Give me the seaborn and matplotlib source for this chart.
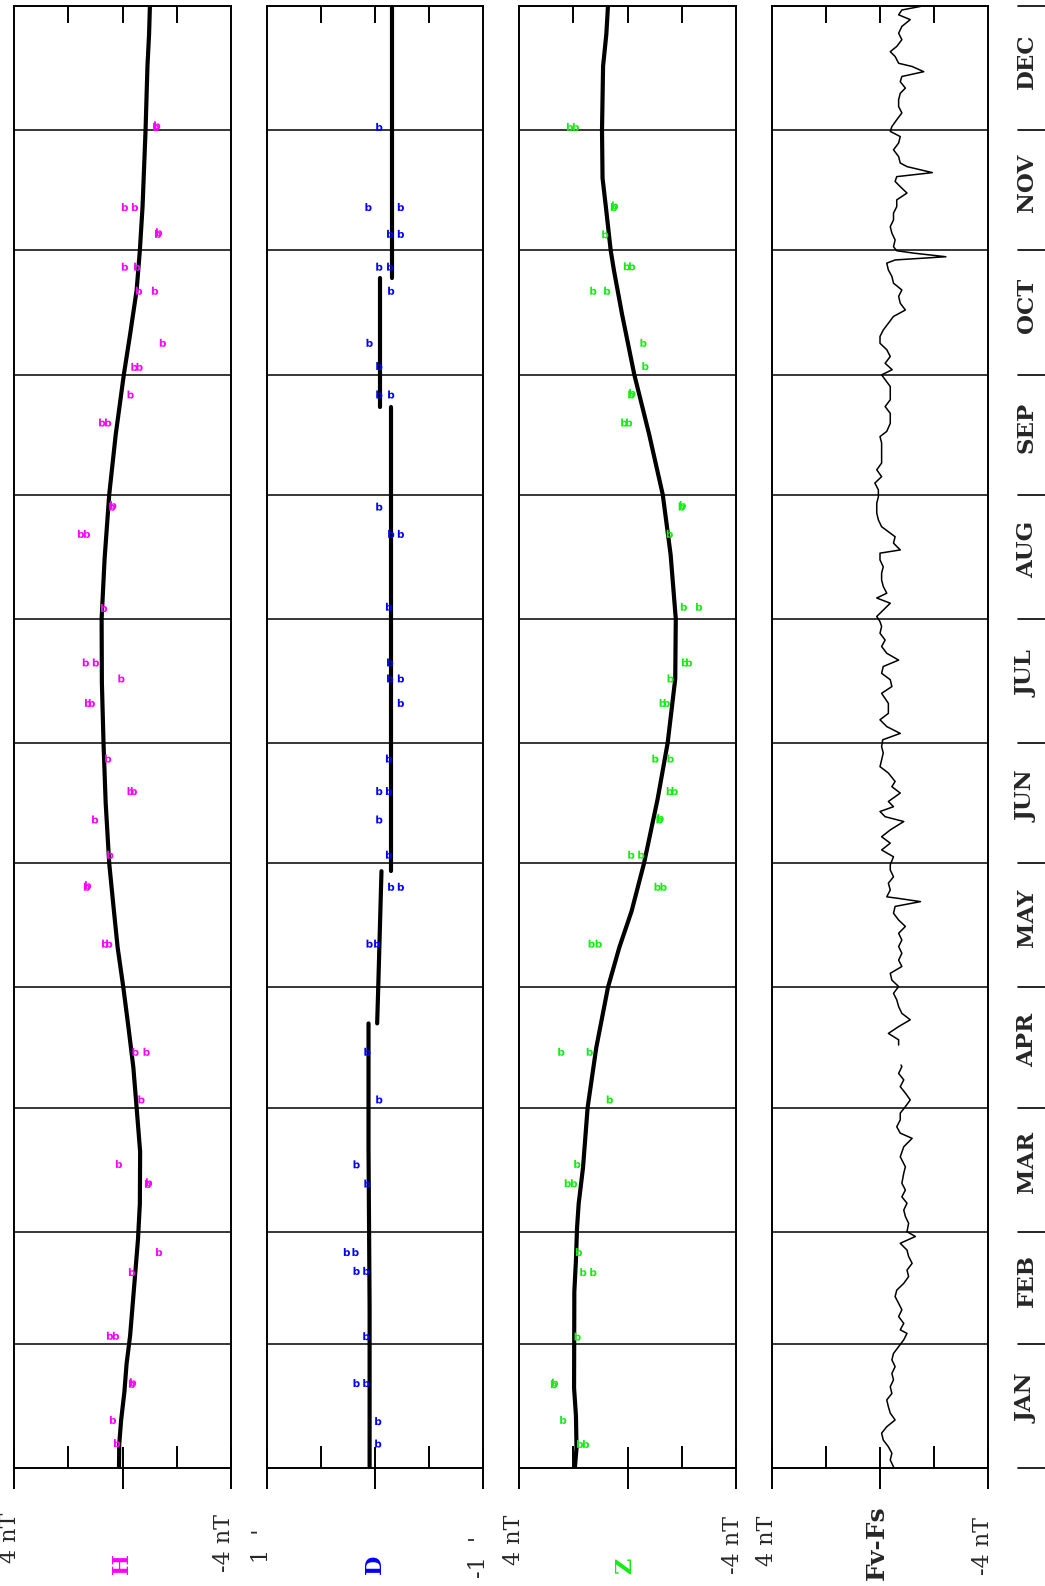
import numpy as np
import pandas as pd
import matplotlib
matplotlib.use("Agg")
import matplotlib.pyplot as plt
import seaborn as sns

months = ["JAN", "FEB", "MAR", "APR", "MAY", "JUN", "JUL", "AUG", "SEP", "OCT", "NOV", "DEC"]
month_len = [31, 28, 31, 30, 31, 30, 31, 31, 30, 31, 30, 31]

# smooth baselines (day of year, nT / arcmin)
h_day = [0, 6, 12, 19, 26, 33, 47, 57, 66, 79, 90, 100, 110, 120, 130, 140, 151, 166, 181, 196, 212,
         227, 243, 258, 273, 283, 294, 304, 315, 334, 350, 358, 365]
h_val = [0.13, 0.12, 0.05, -0.07, -0.15, -0.28, -0.45, -0.57, -0.64, -0.65, -0.52, -0.40, -0.22, -0.03,
         0.18, 0.33, 0.49, 0.62, 0.70, 0.76, 0.77, 0.66, 0.49, 0.25, -0.05, -0.28, -0.52, -0.64, -0.74,
         -0.85, -0.92, -0.98, -1.01]

d_day = [0, 40, 80, 111, np.nan, 111, 120, 149, np.nan, 149, 200, 265, np.nan, 265, 297, np.nan, 297, 365]
d_val = [0.05, 0.05, 0.06, 0.06, np.nan, -0.02, -0.03, -0.06, np.nan, -0.15, -0.15, -0.15, np.nan,
         -0.045, -0.045, np.nan, -0.16, -0.16]

z_day = [0, 5, 13, 20, 44, 52, 60, 66, 75, 90, 105, 120, 130, 139, 151, 167, 181, 197, 212, 228, 243,
         258, 273, 288, 299, 304, 315, 322, 334, 350, 358, 365]
z_val = [1.94, 1.88, 1.90, 1.97, 1.96, 1.90, 1.86, 1.80, 1.64, 1.47, 1.15, 0.72, 0.30, -0.15, -0.61,
         -1.11, -1.48, -1.76, -1.78, -1.59, -1.30, -0.80, -0.25, 0.20, 0.50, 0.62, 0.80, 0.92, 0.94,
         0.90, 0.78, 0.72]

# observation days ("b" symbols)
h_mk_day = [6.2, 12.0, 21.0, 21.4, 33.0, 33.0, 48.9, 53.9, 70.9, 71.3, 75.9, 92.0, 103.9, 103.9, 130.9,
            130.9, 145.1, 145.5, 153.1, 161.9, 169.0, 169.0, 177.1, 191.0, 191.0, 197.1, 201.1, 201.1,
            214.7, 233.2, 233.2, 240.0, 240.4, 261.0, 261.0, 268.0, 274.9, 274.9, 280.9, 293.9, 293.9,
            299.9, 299.9, 308.1, 308.5, 314.8, 314.8, 334.8, 335.2]
h_mk_val = [0.20, 0.35, -0.35, -0.39, 0.46, 0.24, -0.35, -1.35, -0.94, -0.98, 0.13, -0.70, -0.48, -0.89,
            0.64, 0.49, 1.31, 1.27, 0.45, 1.01, -0.30, -0.42, 0.53, 1.27, 1.13, 0.04, 1.35, 0.98, 0.68,
            1.53, 1.31, 0.38, 0.34, 0.75, 0.53, -0.30, -0.44, -0.63, -1.49, -0.61, -1.20, -0.09, -0.54,
            -1.31, -1.35, -0.09, -0.46, -1.24, -1.28]

d_mk_day = [6.1, 11.7, 21.2, 21.2, 32.9, 49.2, 49.2, 53.9, 53.9, 71.0, 75.8, 92.0, 103.9, 130.9, 130.9,
            145.1, 145.1, 153.1, 161.9, 169.0, 169.0, 177.1, 191.0, 197.1, 197.1, 201.1, 215.0, 233.2,
            233.2, 240.0, 268.0, 268.0, 275.1, 280.9, 293.9, 299.9, 299.9, 308.1, 308.1, 314.8, 314.8,
            334.8]
d_mk_val = [-0.03, -0.03, 0.17, 0.08, 0.08, 0.17, 0.08, 0.26, 0.18, 0.07, 0.17, -0.04, 0.07, 0.05, -0.02,
            -0.15, -0.24, -0.13, -0.04, -0.04, -0.13, -0.13, -0.24, -0.14, -0.24, -0.14, -0.13, -0.15,
            -0.24, -0.04, -0.04, -0.15, -0.04, 0.05, -0.15, -0.04, -0.14, -0.14, -0.24, 0.06, -0.24,
            -0.04]

z_mk_day = [6.0, 6.0, 12.0, 20.9, 21.3, 32.8, 48.9, 48.9, 53.9, 71.1, 71.1, 75.9, 92.0, 103.9, 103.9,
            130.9, 130.9, 145.1, 145.1, 153.1, 153.1, 161.9, 162.3, 169.0, 169.0, 177.1, 177.1, 191.0,
            191.0, 197.1, 201.1, 201.1, 215.0, 215.0, 233.2, 240.0, 240.4, 261.0, 261.0, 268.0, 268.4,
            275.1, 280.9, 293.9, 293.9, 300.0, 300.0, 308.0, 314.8, 315.2, 334.8, 334.8]
z_mk_val = [1.75, 1.53, 2.37, 2.71, 2.67, 1.84, 1.63, 1.26, 1.79, 2.20, 1.97, 1.85, 0.65, 2.44, 1.39,
            1.32, 1.06, -1.11, -1.33, -0.14, -0.51, -1.18, -1.22, -1.56, -1.74, -1.03, -1.59, -1.30,
            -1.45, -1.59, -2.12, -2.27, -2.08, -2.64, -1.56, -2.00, -2.04, 0.12, -0.06, -0.14, -0.18,
            -0.66, -0.59, 1.26, 0.75, 0.02, -0.17, 0.82, 0.50, 0.46, 2.12, 1.90]

# Fv-Fs daily differences (gap in April)
f_day = [0.3, 2.0, 3.7, 5.3, 7.0, 8.7, 10.3, 12.0, 13.7, 15.3, 17.0, 18.6, 20.3, 22.0, 23.6, 25.3, 27.0,
         28.6, 30.3, 32.0, 33.6, 34.5, 36.1, 37.8, 39.5, 41.1, 42.8, 44.4, 46.1, 47.8, 49.4, 51.1, 52.8,
         54.4, 56.1, 57.8, 59.0, 61.1, 62.8, 64.4, 66.1, 67.7, 69.4, 71.1, 73.6, 75.2, 77.7, 80.2, 82.3,
         83.6, 85.2, 86.9, 88.6, 90.2, 91.9, 93.6, 95.2, 96.9, 98.5, 100.2, 100.6, 103.0, 105.6, 106.9,
         108.5, 110.2, 111.9, 113.5, 115.2, 116.9, 118.5, 120.2, 121.8, 123.5, 125.2, 126.8, 128.5,
         130.2, 131.8, 133.5, 135.2, 136.8, 138.5, 140.2, 141.4, 142.2, 142.6, 144.3, 146.0, 147.6,
         149.3, 150.6, 152.6, 154.3, 156.0, 157.6, 159.3, 161.4, 162.6, 163.9, 165.1, 166.4, 168.5,
         170.1, 171.4, 173.5, 175.1, 176.8, 178.5, 180.1, 181.8, 183.4, 185.1, 186.8, 188.4, 190.9,
         193.4, 195.1, 196.8, 198.4, 200.1, 201.7, 203.4, 205.1, 206.7, 208.4, 210.1, 211.3, 212.6,
         214.2, 215.9, 217.2, 218.4, 220.1, 221.7, 223.4, 225.0, 226.7, 228.4, 229.2, 230.9, 232.5,
         233.4, 235.0, 236.7, 238.4, 240.9, 242.5, 244.2, 245.9, 247.5, 249.2, 250.9, 252.5, 254.2,
         255.9, 257.5, 258.8, 260.8, 263.3, 265.0, 266.7, 268.3, 270.0, 271.7, 272.9, 274.2, 275.8,
         277.5, 279.2, 280.8, 282.5, 284.1, 285.8, 287.5, 289.1, 290.8, 292.5, 294.1, 295.8, 297.5,
         299.1, 300.8, 301.6, 302.4, 303.3, 303.9, 304.9, 306.6, 308.3, 309.9, 311.6, 313.3, 314.9,
         316.6, 318.3, 319.9, 321.2, 322.4, 323.4, 324.9, 325.8, 327.4, 329.1, 330.8, 332.4, 333.7,
         334.9, 336.6, 338.3, 339.9, 341.6, 343.2, 344.5, 346.1, 347.4, 348.6, 349.9, 350.7, 352.4,
         353.6, 354.9, 356.6, 358.2, 359.9, 361.6, 362.8, 364.0, 364.9]
f_val = [-0.50, -0.38, -0.44, -0.31, -0.12, -0.06, -0.25, -0.56, -0.38, -0.31, -0.25, -0.44, -0.38,
         -0.50, -0.44, -0.56, -0.44, -0.50, -0.69, -0.88, -1.00, -0.75, -0.88, -0.69, -0.81, -0.69,
         -0.56, -0.62, -0.88, -1.06, -1.00, -1.19, -1.06, -1.00, -0.75, -1.31, -1.00, -1.06, -0.94,
         -0.88, -1.00, -0.81, -0.94, -0.81, -0.88, -0.94, -0.75, -0.88, -1.19, -0.75, -0.62, -0.75,
         -0.75, -0.94, -1.12, -0.94, -0.75, -0.88, -0.69, -0.81, -0.78, np.nan, -0.69, -0.69, -0.31,
         -0.69, -1.12, -0.81, -0.69, -0.62, -0.50, -0.69, -0.44, -0.38, -0.81, -0.69, -0.81, -0.69,
         -0.81, -0.69, -0.94, -0.69, -0.50, -0.56, -1.50, -0.69, -0.25, -0.38, -0.31, -0.50, -0.38,
         -0.38, -0.50, -0.06, -0.38, -0.06, -0.38, -0.88, -0.19, 0.00, -0.50, -0.31, -0.75, -0.44,
         -0.56, -0.31, 0.00, -0.06, -0.12, -0.06, -0.10, -0.75, -0.25, 0.00, -0.31, -0.31, -0.06,
         -0.44, -0.38, -0.06, -0.12, -0.69, -0.25, -0.06, -0.19, 0.00, -0.06, 0.00, 0.12, -0.12, -0.38,
         0.12, -0.25, -0.12, -0.06, -0.06, -0.12, 0.00, 0.00, -0.75, -0.50, -0.56, -0.38, -0.06, 0.06,
         0.12, 0.12, 0.06, 0.06, 0.19, -0.06, 0.12, -0.06, -0.06, -0.06, -0.06, 0.00, -0.25, -0.38,
         -0.38, -0.19, -0.38, -0.38, -0.38, -0.19, -0.06, -0.45, -0.19, -0.38, -0.25, 0.00, 0.00, -0.12,
         -0.31, -0.50, -0.94, -0.75, -0.69, -0.81, -0.50, -0.44, -0.31, -0.25, -0.56, -2.44, -1.25,
         -0.62, -0.50, -0.56, -0.44, -0.38, -0.50, -0.50, -0.62, -0.62, -1.00, -0.75, -0.56, -0.62,
         -1.94, -1.00, -0.75, -0.69, -0.50, -0.69, -0.75, -0.38, -0.44, -0.62, -0.81, -0.69, -0.69,
         -0.75, -0.94, -0.75, -0.81, -1.62, -1.19, -0.69, -0.56, -0.38, -0.62, -0.81, -0.69, -0.81,
         -1.12, -0.69, -0.81, -1.50]

sns.set_style("white")
plt.rcParams["font.family"] = ["DejaVu Serif"]

W, H = 1045, 1586
TOP, BOT = 6, 1468
fig = plt.figure(figsize=(W / 100, H / 100), dpi=100)

bounds = np.concatenate([[0], np.cumsum(month_len)])


def px_axes(x0, x1):
    return fig.add_axes([x0 / W, 1 - BOT / H, (x1 - x0) / W, (BOT - TOP) / H])


def trace(ax, day, val, lw):
    df = pd.DataFrame({"day": day, "val": val})
    df["seg"] = df["val"].isna().cumsum()
    df = df.dropna()
    sns.lineplot(data=df, x="val", y="day", units="seg", estimator=None, sort=False,
                 color="black", lw=lw, ax=ax)


def frame(ax, lim):
    ax.set_xlim(lim, -lim)
    ax.set_ylim(0, 365)
    ax.set_xlabel("")
    ax.set_ylabel("")
    ax.set_yticks([])
    for s in ax.spines.values():
        s.set_linewidth(1.4)
        s.set_color("black")
    for b in bounds[1:-1]:
        ax.axhline(b, color="black", lw=1.1, zorder=1)
    ax.set_xticks([lim, 0, -lim])
    ax.set_xticks([lim / 2, -lim / 2], minor=True)
    ax.tick_params(axis="x", which="major", direction="inout", length=30, width=1.4,
                   bottom=True, top=False, labelbottom=False, color="black")
    ax.tick_params(axis="x", which="minor", direction="in", length=16, width=1.4,
                   bottom=True, top=False, color="black")
    # inward ticks along the top edge
    ax.vlines([lim / 2, 0, -lim / 2], 1 - 17 / (BOT - TOP), 1, color="black", lw=1.4,
              transform=ax.get_xaxis_transform(), zorder=4)


def marks(ax, day, val, color):
    sns.scatterplot(x=val, y=day, marker="$\\mathbf{b}$", s=34, color=color,
                    linewidth=0, edgecolor="none", ax=ax, zorder=3)


panels = [(14, 231), (267, 483), (519, 736), (772, 988)]
magenta, blue, green = "#ff00ff", "#0000ff", "#11ee11"

ax_h = px_axes(*panels[0])
marks(ax_h, h_mk_day, h_mk_val, magenta)
trace(ax_h, h_day, h_val, 3.0)
frame(ax_h, 4)

ax_d = px_axes(*panels[1])
marks(ax_d, d_mk_day, d_mk_val, blue)
trace(ax_d, d_day, d_val, 3.0)
frame(ax_d, 1)

ax_z = px_axes(*panels[2])
marks(ax_z, z_mk_day, z_mk_val, green)
trace(ax_z, z_day, z_val, 3.0)
frame(ax_z, 4)

ax_f = px_axes(*panels[3])
trace(ax_f, f_day, f_val, 1.1)
frame(ax_f, 4)

# month column
ax_m = px_axes(1018, 1045)
ax_m.set_xlim(0, 1)
ax_m.set_ylim(0, 365)
ax_m.axis("off")
for b in bounds:
    ax_m.axhline(b, color="black", lw=1.2, clip_on=False)
for i, m in enumerate(months):
    ax_m.text(0.33, (bounds[i] + bounds[i + 1]) / 2 + 1.8, m, rotation=90, ha="center", va="center",
              fontsize=16.5, fontweight="bold", rotation_mode="anchor")


def label(x, y, s, ha="center", size=16, **kw):
    fig.text(x / W, 1 - y / H, s, rotation=90, rotation_mode="anchor", ha=ha, va="center",
             fontsize=size, **kw)


label(10, 1538, "4 nT")
label(224, 1543, "-4 nT")
label(122, 1574, "H", ha="left", fontweight="bold", color=magenta)

label(262, 1563, "1  '", ha="left")
label(479, 1578, "-1  '", ha="left")
label(375, 1574, "D", ha="left", fontweight="bold", color=blue)

label(514, 1540, "4 nT")
label(733, 1545, "-4 nT")
label(625, 1574, "Z", ha="left", fontweight="bold", color=green)

label(767, 1541, "4 nT")
label(983, 1546, "-4 nT")
label(877, 1580, "Fv-Fs", ha="left", size=18, fontweight="bold")

fig.savefig("out.png", dpi=100)

# sanity check: centre tick on the top edge of every panel
g = plt.imread("out.png")[..., :3].mean(axis=2)
missing = [c for c in (122, 375, 627, 880) if g[12, c - 2:c + 3].min() > 0.6]
if missing:
    raise RuntimeError("no top centre tick at " + str(missing))
